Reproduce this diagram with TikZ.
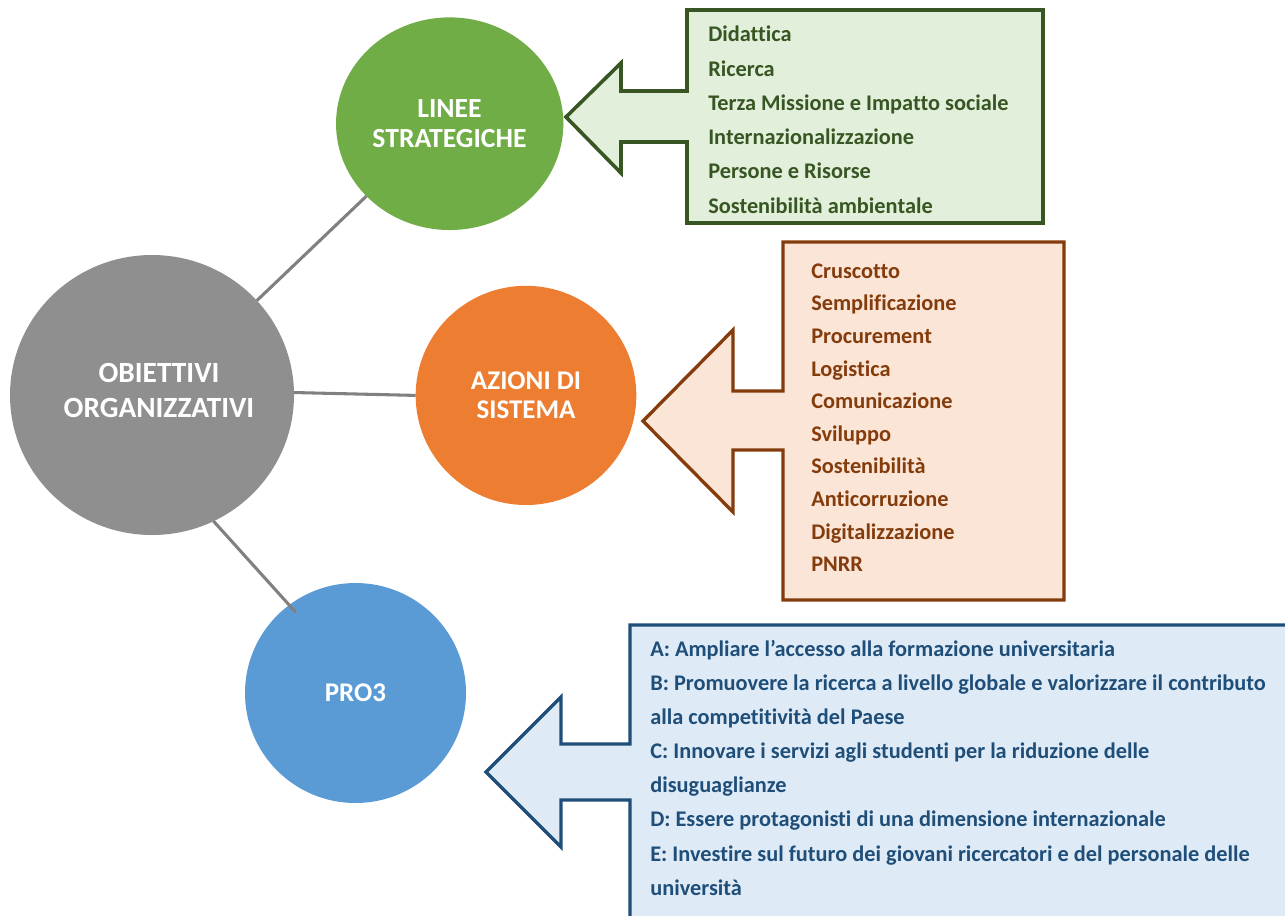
\documentclass[tikz,border=0pt]{standalone}
\usepackage{fontspec}
\setmainfont[Ligatures=NoCommon]{Carlito}
\usetikzlibrary{shapes.geometric}
\definecolor{cgray}{HTML}{8F8F8F}
\definecolor{cline}{HTML}{808080}
\definecolor{cgreen}{HTML}{70AD47}
\definecolor{cgreenfill}{HTML}{E2EFDA}
\definecolor{cgreendark}{HTML}{375623}
\definecolor{corange}{HTML}{ED7D31}
\definecolor{corangefill}{HTML}{FBE5D6}
\definecolor{corangedark}{HTML}{843C0C}
\definecolor{cblue}{HTML}{5B9BD5}
\definecolor{cbluefill}{HTML}{DEEBF7}
\definecolor{cbluedark}{HTML}{1F4E79}
\begin{document}
\begin{tikzpicture}[x=0.75pt,y=-0.75pt,
  bubble/.style={ellipse,inner sep=0pt,outer sep=0pt,draw=none},
  title/.style={align=center,text=white,inner sep=0pt,font=\bfseries\fontsize{20.75}{22.5}\selectfont},
  item/.style={anchor=base west,inner sep=0pt,font=\bfseries\fontsize{16.75}{20}\selectfont},
  callout/.style={line width=2.5pt,line join=miter},
  link/.style={draw=cline,line width=2.3pt}]
\useasboundingbox (0,0) rectangle (1285,915);
\clip (0,0) rectangle (1285,915);
\fill[white] (0,0) rectangle (1285,915);

% callouts
\draw[callout,line width=2.7pt,draw=cgreendark,fill=cgreenfill]
  (687,10) -- (1043,10) -- (1043,223) -- (687,223) -- (687,142) -- (621,142) -- (621,173)
  -- (566,117) -- (621,63) -- (621,91) -- (687,91) -- cycle;
\draw[callout,draw=corangedark,fill=corangefill]
  (783,242) -- (1064,242) -- (1064,600) -- (783,600) -- (783,450) -- (733,450) -- (733,512)
  -- (643,421) -- (733,330) -- (733,391) -- (783,391) -- cycle;
\draw[callout,draw=cbluedark,fill=cbluefill]
  (630,625) -- (1300,625) -- (1300,930) -- (630,930) -- (630,800) -- (561,800) -- (561,847)
  -- (486,772) -- (561,697) -- (561,744) -- (630,744) -- cycle;

% circles
\node[bubble,fill=cgray,minimum width=213pt,minimum height=210pt] (obj) at (152,395) {};
\node[bubble,fill=cgreen,minimum width=170.5pt,minimum height=159.5pt] (lin) at (449.7,123.7) {};
\node[bubble,fill=corange,minimum width=165.5pt,minimum height=164.4pt] (azi) at (526,395.4) {};
\node[bubble,fill=cblue,minimum width=165.75pt,minimum height=165pt] (pro) at (355.5,693) {};

% links
\draw[link] (obj.42.5) -- (lin.221);
\draw[link] (obj.1.4) -- (azi.180);
\draw[link,shorten >=-7.5pt] (obj.-64.3) -- (pro.127.4);

% circle titles
\node[title] (tlin) at (449.5,123.3) {LINEE\\STRATEGICHE};
\node[title,font=\bfseries\fontsize{20.25}{21.75}\selectfont] (tazi) at (526,395.2) {AZIONI DI\\SISTEMA};
\node[title,font=\bfseries\fontsize{22}{26.25}\selectfont] (tobj) at (159,390.5) {OBIETTIVI\\ORGANIZZATIVI};
\node[title,font=\bfseries\fontsize{20.25}{22.5}\selectfont] (tpro) at (355.5,692.7) {PRO3};

% lists
\foreach \t [count=\i] in {{Didattica},{Ricerca},{Terza Missione e Impatto sociale},{Internazionalizzazione},{Persone e Risorse},{Sostenibilità ambientale}}
  \node[item,text=cgreendark] (g\i) at (708,{41.7+34.3*(\i-1)}) {\t};
\foreach \t [count=\i] in {{Cruscotto},{Semplificazione},{Procurement},{Logistica},{Comunicazione},{Sviluppo},{Sostenibilità},{Anticorruzione},{Digitalizzazione},{PNRR}}
  \node[item,text=corangedark] (o\i) at (811,{278.3+32.6*(\i-1)}) {\t};
\foreach \t [count=\i] in {{A: Ampliare l’accesso alla formazione universitaria},{B: Promuovere la ricerca a livello globale e valorizzare il contributo},{alla competitività del Paese},{C: Innovare i servizi agli studenti per la riduzione delle},{disuguaglianze},{D: Essere protagonisti di una dimensione internazionale},{E: Investire sul futuro dei giovani ricercatori e del personale delle},{università}}
  \node[item,text=cbluedark] (b\i) at (650,{656.7+34.05*(\i-1)}) {\t};
\end{tikzpicture}
\end{document}
